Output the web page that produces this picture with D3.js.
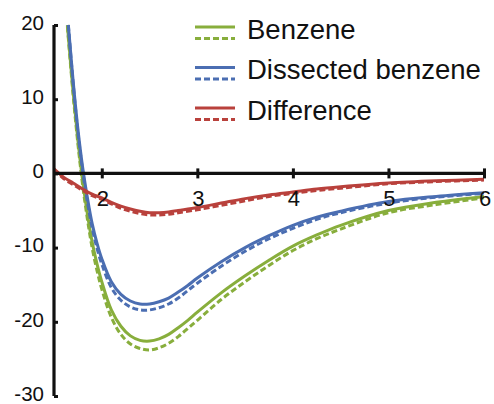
<!DOCTYPE html>
<html>
<head>
<meta charset="utf-8">
<script src="https://cdn.jsdelivr.net/npm/d3@7"></script>
<style>
  html, body { margin: 0; padding: 0; background: #fff; }
  svg { display: block; font-family: "Liberation Sans", Arial, Helvetica, sans-serif; }
</style>
</head>
<body>
<svg id="chart" width="494" height="404"></svg>
<script>
// Interaction energy curves vs. distance
const xGrid = [1.64, 1.70, 1.75, 1.80, 1.85, 1.90, 1.95, 2.00, 2.10, 2.20, 2.30, 2.40, 2.50, 2.60, 2.70, 2.80, 2.90, 3.00, 3.25, 3.50, 3.75, 4.00, 4.25, 4.50, 5.00, 5.50, 6.00];

const benzeneSolid  = [20.0, 11.0, 4.5, -1.0, -5.5, -9.3, -12.2, -14.6, -18.4, -20.6, -21.9, -22.5, -22.6, -22.3, -21.7, -20.8, -19.8, -18.7, -16.1, -13.8, -11.7, -9.8, -8.3, -7.0, -5.0, -3.9, -3.1];
const benzeneDashed = [19.8, 10.6, 4.0, -1.6, -6.2, -10.1, -13.1, -15.6, -19.4, -21.7, -23.0, -23.6, -23.8, -23.5, -22.9, -22.0, -20.9, -19.8, -17.0, -14.6, -12.4, -10.4, -8.8, -7.5, -5.3, -4.2, -3.3];

const xGridD = [1.65, 1.70, 1.75, 1.80, 1.85, 1.90, 1.95, 2.00, 2.10, 2.20, 2.30, 2.40, 2.50, 2.60, 2.70, 2.80, 2.90, 3.00, 3.25, 3.50, 3.75, 4.00, 4.25, 4.50, 5.00, 5.50, 6.00];
const dissectedSolid  = [20.0, 12.5, 6.0, 0.8, -3.3, -6.8, -9.4, -11.5, -14.6, -16.3, -17.2, -17.6, -17.6, -17.3, -16.8, -16.0, -15.1, -14.1, -11.9, -10.0, -8.4, -7.0, -5.9, -5.1, -3.8, -3.1, -2.6];
const dissectedDashed = [20.0, 12.2, 5.6, 0.3, -3.9, -7.4, -10.1, -12.2, -15.4, -17.1, -18.0, -18.4, -18.4, -18.1, -17.6, -16.8, -15.8, -14.8, -12.5, -10.5, -8.8, -7.4, -6.2, -5.3, -4.0, -3.2, -2.7];

const xGridR = [1.50, 1.60, 1.70, 1.80, 1.90, 2.00, 2.10, 2.20, 2.30, 2.40, 2.50, 2.60, 2.70, 2.80, 3.00, 3.25, 3.50, 3.75, 4.00, 4.25, 4.50, 5.00, 5.50, 6.00];
const differenceSolid  = [0.6, -0.5, -1.3, -2.1, -2.8, -3.3, -3.9, -4.4, -4.8, -5.1, -5.3, -5.3, -5.2, -5.0, -4.6, -4.0, -3.4, -2.9, -2.5, -2.1, -1.8, -1.3, -1.0, -0.8];
const differenceDashed = [0.5, -0.7, -1.5, -2.3, -3.0, -3.5, -4.1, -4.7, -5.1, -5.4, -5.6, -5.6, -5.5, -5.3, -4.9, -4.3, -3.7, -3.1, -2.7, -2.3, -2.0, -1.4, -1.1, -0.9];

const xTicks = [2, 3, 4, 5, 6];
const yTicks = [-30, -20, -10, 0, 10, 20];

const seriesNames = ["Benzene", "Dissected benzene", "Difference"];
const seriesColors = ["#88ae3c", "#4b6eb2", "#b9413c"];

const svg = d3.select("#chart");
const x = d3.scaleLinear().domain([1.5, 6]).range([54, 484]);
const y = d3.scaleLinear().domain([-30, 20]).range([396, 25]);

const clip = svg.append("defs").append("clipPath").attr("id", "plot-clip");
clip.append("rect").attr("x", 54).attr("y", 22).attr("width", 440).attr("height", 380);

const line = d3.line().x(d => x(d[0])).y(d => y(d[1])).curve(d3.curveCatmullRom.alpha(0.5));

const curves = [
  { xs: xGrid,  ys: benzeneSolid,     color: seriesColors[0], dashed: false },
  { xs: xGrid,  ys: benzeneDashed,    color: seriesColors[0], dashed: true },
  { xs: xGridD, ys: dissectedSolid,   color: seriesColors[1], dashed: false },
  { xs: xGridD, ys: dissectedDashed,  color: seriesColors[1], dashed: true },
  { xs: xGridR, ys: differenceSolid,  color: seriesColors[2], dashed: false },
  { xs: xGridR, ys: differenceDashed, color: seriesColors[2], dashed: true }
];

const plot = svg.append("g").attr("clip-path", "url(#plot-clip)");
curves.forEach(c => {
  plot.append("path")
    .datum(c.xs.map((v, i) => [v, c.ys[i]]))
    .attr("d", line)
    .style("fill", "none")
    .style("stroke", c.color)
    .style("stroke-width", "3px")
    .style("stroke-dasharray", c.dashed ? "6,3" : null);
});

// Y axis (left), ticks pointing inward
const yAxis = svg.append("g").attr("transform", `translate(${x(1.5)},0)`)
  .call(d3.axisRight(y).tickValues(yTicks).tickSize(4).tickFormat(""));
yAxis.select(".domain").attr("d", `M0,${y(20)}V${y(-30)}`)
  .style("stroke", "#111").style("stroke-width", "3.2px");
yAxis.selectAll(".tick line").style("stroke", "#111").style("stroke-width", "3px");
svg.append("g").selectAll("text").data(yTicks).join("text")
  .attr("x", 44).attr("y", d => y(d) - 2.5).attr("dy", "0.36em")
  .attr("text-anchor", "end").attr("font-size", 20.5).attr("fill", "#111")
  .text(d => d);

// X axis through zero, ticks crossing the line
const xAxis = svg.append("g").attr("transform", `translate(0,${y(0)})`)
  .call(d3.axisBottom(x).tickValues(xTicks).tickSizeInner(0).tickSizeOuter(0).tickFormat(""));
xAxis.select(".domain").attr("d", `M${x(1.5)},0H${x(6)}`)
  .style("stroke", "#111").style("stroke-width", "3.2px");
xAxis.selectAll(".tick line").attr("y1", -5).attr("y2", 5)
  .style("stroke", "#111").style("stroke-width", "3px");
svg.append("g").selectAll("text").data(xTicks).join("text")
  .attr("x", d => x(d) + 1).attr("y", y(0) + 33)
  .attr("text-anchor", "middle").attr("font-size", 22).attr("fill", "#111")
  .text(d => d);

// Legend
const legend = svg.append("g");
seriesNames.forEach((name, i) => {
  const top = 27 + i * 40.5;
  legend.append("line").attr("x1", 195).attr("x2", 235).attr("y1", top).attr("y2", top)
    .style("stroke", seriesColors[i]).style("stroke-width", "3px");
  legend.append("line").attr("x1", 195).attr("x2", 235).attr("y1", top + 11.5).attr("y2", top + 11.5)
    .style("stroke", seriesColors[i]).style("stroke-width", "3px").style("stroke-dasharray", "6,3");
  legend.append("text").attr("x", 247).attr("y", top + 11.5)
    .attr("font-size", 27.5).attr("fill", "#111").text(name);
});
</script>
</body>
</html>
